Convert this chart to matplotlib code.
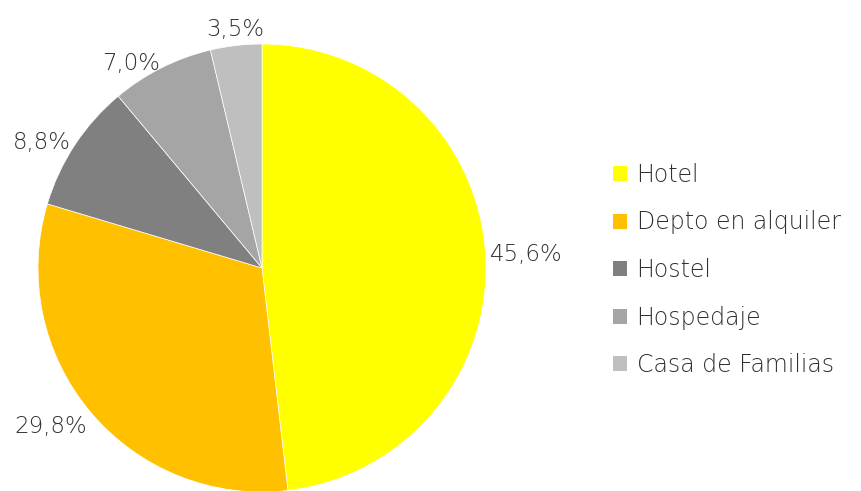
import matplotlib.pyplot as plt
from matplotlib.patches import Patch

# datos del grafico
categorias = ['Hotel', 'Depto en alquiler', 'Hostel', 'Hospedaje', 'Casa de Familias']
valores = [45.6, 29.8, 8.8, 7.0, 3.5]
colores = ['#FFFF00', '#FFC000', '#808080', '#A5A5A5', '#BFBFBF']
etiquetas = [f'{v:.1f}%'.replace('.', ',') for v in valores]

plt.rcParams['font.family'] = ['DejaVu Sans']
plt.rcParams['font.weight'] = 'light'
color_texto = '#303030'

fig = plt.figure(figsize=(8.62, 4.91), dpi=100)
ax = fig.add_axes([38 / 862, -1 / 491, 448 / 862, 448 / 491])

wedges, textos = ax.pie(valores, colors=colores, labels=etiquetas,
                        startangle=90, counterclock=False,
                        labeldistance=1.02, radius=1,
                        wedgeprops=dict(linewidth=0.5, edgecolor='white'),
                        textprops=dict(fontsize=16.5, color=color_texto))

# alineacion de etiquetas tipo "extremo externo"
for t in textos:
    x, y = t.get_position()
    if x > 0.3:
        t.set_ha('left')
    elif x < -0.3:
        t.set_ha('right')
    else:
        t.set_ha('center')
    if y > 0.95:
        t.set_va('bottom')
    elif y < -0.5:
        t.set_va('top')
    else:
        t.set_va('center')

ax.set_xlim(-1, 1)
ax.set_ylim(-1, 1)
ax.set_aspect('equal')

handles = [Patch(facecolor=c, edgecolor='none') for c in colores]
fig.legend(handles, categorias, loc='center left',
           bbox_to_anchor=(613 / 862, 1 - 270 / 491),
           frameon=False, fontsize=17, labelcolor=color_texto,
           handlelength=0.6, handleheight=0.6, handletextpad=0.4,
           labelspacing=1.0, borderpad=0, borderaxespad=0)

fig.savefig('out.png', dpi=100)
